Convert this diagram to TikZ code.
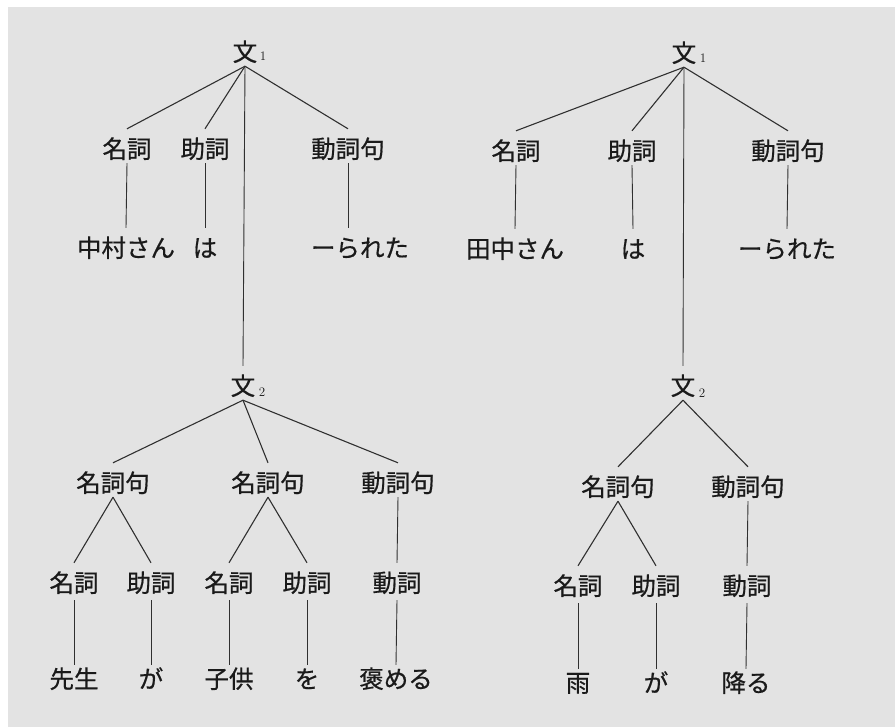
\documentclass[tikz,border=0pt]{standalone}
\usepackage{fontspec}
\newfontfamily\jp[FakeBold=0.6]{Noto Sans CJK JP}
\definecolor{paper}{HTML}{E3E3E3}
\definecolor{ink}{HTML}{1A1A1A}
\definecolor{branch}{HTML}{303030}
\begin{document}
\begin{tikzpicture}[x=1pt,y=-1pt,
  lbl/.style={anchor=base,inner sep=0pt,text=ink,font=\jp\fontsize{24.5}{24.5}\selectfont,text height=29pt,text depth=5pt},
  midrow/.style={lbl,text depth=8pt},
  leafrow/.style={lbl,text height=23pt},
  subnum/.style={anchor=center,inner sep=0pt,text=ink,font=\fontsize{13}{13}\selectfont},
  edge/.style={draw=branch,line width=1.1pt},
  stem/.style={draw=branch,line width=0.9pt}]
\useasboundingbox (0,0) rectangle (895,727);
\fill[paper] (0,0) rectangle (895,727);
\fill[white] (0,0) rectangle (895,7);
\fill[white] (0,0) rectangle (8,727);

% ---------- left tree ----------
\node[lbl] (s1) at (245,61) {文};
\node[subnum] (s1n) at (263,56) {1};
\node[lbl] (n1) at (127,158) {名詞};
\node[lbl] (p1) at (205,158) {助詞};
\node[lbl] (vp1) at (348,158) {動詞句};
\node[lbl] (w1) at (126,257) {中村さん};
\node[lbl] (w2) at (205,257) {は};
\node[lbl] (w3) at (360,257) {ーられた};

\node[lbl] (s2) at (243,395) {文};
\node[subnum] (s2n) at (262,392) {2};
\node[lbl] (np1) at (113,492) {名詞句};
\node[lbl] (np2) at (268,492) {名詞句};
\node[lbl] (vp2) at (398,492) {動詞句};
\node[midrow] (n2) at (74,592) {名詞};
\node[midrow] (p2) at (151,592) {助詞};
\node[midrow] (n3) at (229,592) {名詞};
\node[midrow] (p3) at (307,592) {助詞};
\node[midrow] (v1) at (397,592) {動詞};
\node[leafrow] (w4) at (74,688) {先生};
\node[leafrow] (w5) at (151,688) {が};
\node[leafrow] (w6) at (229,688) {子供};
\node[leafrow] (w7) at (307,688) {を};
\node[leafrow] (w8) at (396,688) {褒める};

\draw[edge] (s1.south) -- (n1.north);
\draw[edge] (s1.south) -- (p1.north);
\draw[edge] (s1.south) -- (vp1.north);
\draw[stem] (s1.south) -- (s2.north);
\draw[stem] (n1.south) -- (w1.north);
\draw[stem] (p1.south) -- (w2.north);
\draw[stem] (vp1.south) -- (vp1.south |- w3.north);
\draw[edge] (s2.south) -- (np1.north);
\draw[edge] (s2.south) -- (np2.north);
\draw[edge] (s2.south) -- (vp2.north);
\draw[edge] (np1.south) -- (n2.north);
\draw[edge] (np1.south) -- (p2.north);
\draw[edge] (np2.south) -- (n3.north);
\draw[edge] (np2.south) -- (p3.north);
\draw[stem] (vp2.south) -- (v1.north);
\draw[stem] (n2.south) -- (w4.north);
\draw[stem] (p2.south) -- (w5.north);
\draw[stem] (n3.south) -- (w6.north);
\draw[stem] (p3.south) -- (w7.north);
\draw[stem] (v1.south) -- (w8.north);

% ---------- right tree ----------
\node[lbl] (t1) at (684,62) {文};
\node[subnum] (t1n) at (703,58) {1};
\node[lbl] (rn1) at (516,160) {名詞};
\node[lbl] (rp1) at (632,160) {助詞};
\node[lbl] (rvp1) at (788,160) {動詞句};
\node[lbl] (x1) at (515,258) {田中さん};
\node[lbl] (x2) at (633,258) {は};
\node[lbl] (x3) at (787,258) {ーられた};

\node[lbl] (t2) at (683,395) {文};
\node[subnum] (t2n) at (702,393) {2};
\node[lbl] (rnp) at (618,496) {名詞句};
\node[lbl] (rvp) at (748,496) {動詞句};
\node[midrow] (rn2) at (578,595) {名詞};
\node[midrow] (rp2) at (656,595) {助詞};
\node[midrow] (rv) at (747,595) {動詞};
\node[leafrow] (x4) at (578,692) {雨};
\node[leafrow] (x5) at (656,692) {が};
\node[leafrow] (x6) at (746,692) {降る};

\draw[edge] (t1.south) -- (rn1.north);
\draw[edge] (t1.south) -- (rp1.north);
\draw[edge] (t1.south) -- (rvp1.north);
\draw[stem] (t1.south) -- (t2.north);
\draw[stem] (rn1.south) -- (x1.north);
\draw[stem] (rp1.south) -- (x2.north);
\draw[stem] (rvp1.south) -- (x3.north);
\draw[edge] (t2.south) -- (rnp.north);
\draw[edge] (t2.south) -- (rvp.north);
\draw[edge] (rnp.south) -- (rn2.north);
\draw[edge] (rnp.south) -- (rp2.north);
\draw[stem] (rvp.south) -- (rv.north);
\draw[stem] (rn2.south) -- (x4.north);
\draw[stem] (rp2.south) -- (x5.north);
\draw[stem] (rv.south) -- (x6.north);
\end{tikzpicture}
\end{document}
